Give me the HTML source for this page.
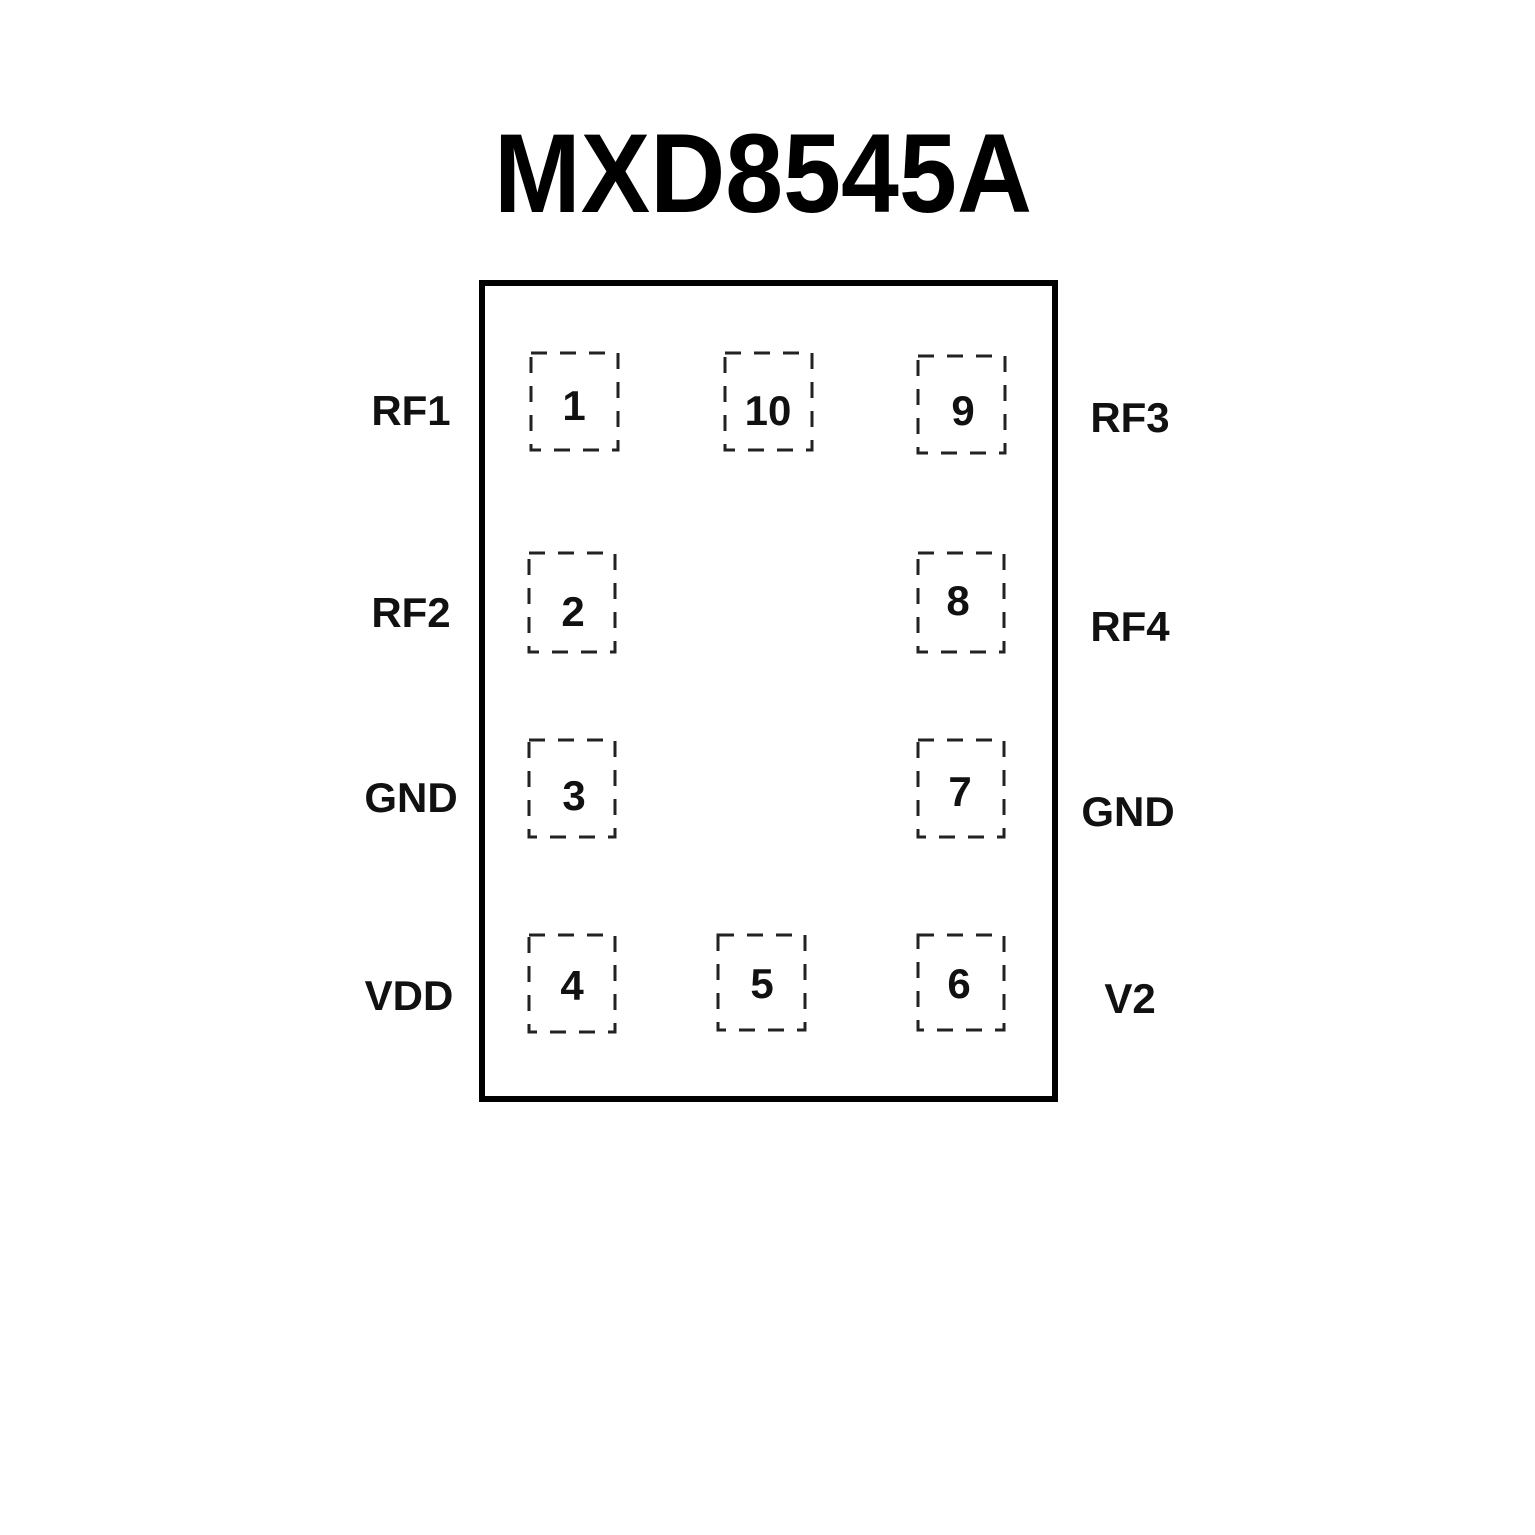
<!DOCTYPE html>
<html><head><style>html,body{margin:0;padding:0;background:#fff}svg{display:block}</style></head>
<body>
<svg width="1535" height="1535" viewBox="0 0 1535 1535" xmlns="http://www.w3.org/2000/svg">
<rect width="1535" height="1535" fill="#fff"/>
<text x="763" y="212" text-anchor="middle" font-family="Liberation Sans, sans-serif" font-weight="bold" font-size="112" fill="#000" textLength="538" lengthAdjust="spacingAndGlyphs">MXD8545A</text>
<rect x="482" y="283" width="573" height="816" fill="none" stroke="#000" stroke-width="6"/>
<g fill="none" stroke="#222" stroke-width="3" stroke-dasharray="16 13">
<rect x="531" y="353" width="87" height="97"/>
<rect x="725" y="353" width="87" height="97"/>
<rect x="918" y="356" width="87" height="97"/>
<rect x="529" y="553" width="86" height="99"/>
<rect x="918" y="553" width="86" height="99"/>
<rect x="529" y="740" width="86" height="97"/>
<rect x="918" y="740" width="86" height="97"/>
<rect x="529" y="935" width="86" height="97"/>
<rect x="718" y="935" width="87" height="95"/>
<rect x="918" y="935" width="86" height="95"/>
</g>
<g font-family="Liberation Sans, sans-serif" font-weight="bold" font-size="42" fill="#111" text-anchor="middle">
<text x="574" y="420">1</text>
<text x="768" y="425">10</text>
<text x="963" y="425">9</text>
<text x="573" y="626">2</text>
<text x="958" y="615">8</text>
<text x="574" y="810">3</text>
<text x="960" y="806">7</text>
<text x="572" y="1000">4</text>
<text x="762" y="998">5</text>
<text x="959" y="998">6</text>
<text x="411" y="425">RF1</text>
<text x="411" y="627">RF2</text>
<text x="411" y="812">GND</text>
<text x="409" y="1010">VDD</text>
<text x="1130" y="432">RF3</text>
<text x="1130" y="641">RF4</text>
<text x="1128" y="826">GND</text>
<text x="1130" y="1013">V2</text>
</g>
</svg>
</body></html>
